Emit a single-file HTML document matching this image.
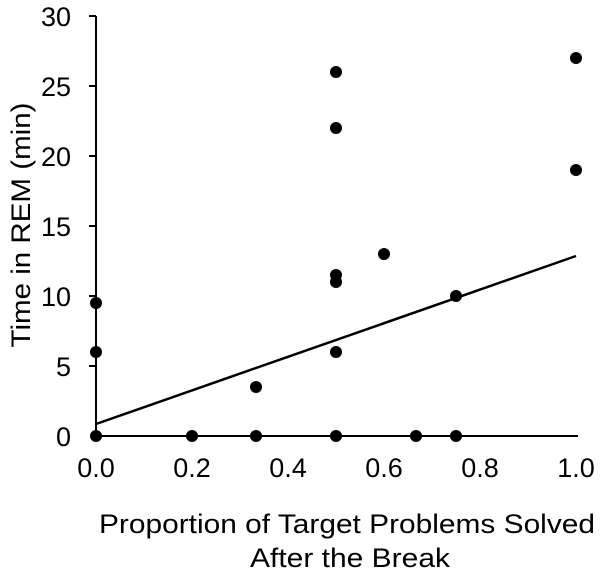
<!DOCTYPE html>
<html><head><style>body{margin:0;background:#fff}</style></head><body>
<svg width="600" height="579" xmlns="http://www.w3.org/2000/svg" font-family="Liberation Sans, sans-serif" font-size="27" fill="#000">
<line x1="96" y1="16" x2="96" y2="436" stroke="#000" stroke-width="2"/>
<line x1="96" y1="436" x2="578" y2="436" stroke="#000" stroke-width="2"/>
<g stroke="#000" stroke-width="2">
<line x1="89" y1="16" x2="96" y2="16"/><line x1="89" y1="86" x2="96" y2="86"/><line x1="89" y1="156" x2="96" y2="156"/>
<line x1="89" y1="226" x2="96" y2="226"/><line x1="89" y1="296" x2="96" y2="296"/><line x1="89" y1="366" x2="96" y2="366"/>
</g>
<g text-anchor="end">
<text x="71" y="26">30</text><text x="71" y="96">25</text><text x="71" y="166">20</text>
<text x="71" y="236">15</text><text x="71" y="306">10</text><text x="71" y="376">5</text><text x="71" y="446">0</text>
</g>
<g text-anchor="middle">
<text x="96" y="477">0.0</text><text x="192" y="477">0.2</text><text x="288" y="477">0.4</text>
<text x="384" y="477">0.6</text><text x="480" y="477">0.8</text><text x="576" y="477">1.0</text>
<text x="347" y="533" textLength="496" lengthAdjust="spacingAndGlyphs">Proportion of Target Problems Solved</text>
<text x="350" y="567" textLength="200" lengthAdjust="spacingAndGlyphs">After the Break</text>
<text transform="translate(30,225) rotate(-90)" textLength="245" lengthAdjust="spacingAndGlyphs">Time in REM (min)</text>
</g>
<line x1="96" y1="424" x2="576" y2="256" stroke="#000" stroke-width="2.5"/>
<g fill="#000">
<circle cx="96" cy="436" r="6"/><circle cx="96" cy="352" r="6"/><circle cx="96" cy="303" r="6"/>
<circle cx="192" cy="436" r="6"/>
<circle cx="256" cy="436" r="6"/><circle cx="256" cy="387" r="6"/>
<circle cx="336" cy="436" r="6"/><circle cx="336" cy="352" r="6"/><circle cx="336" cy="282" r="6"/><circle cx="336" cy="275" r="6"/>
<circle cx="336" cy="128" r="6"/><circle cx="336" cy="72" r="6"/>
<circle cx="384" cy="254" r="6"/>
<circle cx="416" cy="436" r="6"/>
<circle cx="456" cy="436" r="6"/><circle cx="456" cy="296" r="6"/>
<circle cx="576" cy="170" r="6"/><circle cx="576" cy="58" r="6"/>
</g>
</svg>
</body></html>
